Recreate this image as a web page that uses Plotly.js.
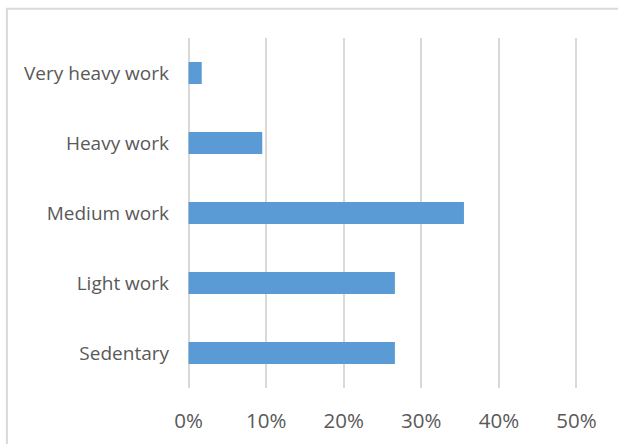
<!DOCTYPE html>
<html>
<head>
<meta charset="utf-8">
<script src="https://cdn.plot.ly/plotly-3.0.1.min.js"></script>
<style>html,body{margin:0;padding:0;background:#fff;}#chart{width:618px;height:444px;}</style>
</head>
<body>
<div id="chart"></div>
<script>
const categories = ["Sedentary", "Light work", "Medium work", "Heavy work", "Very heavy work"];
const shares = [0.266, 0.266, 0.355, 0.095, 0.017];
const tickValues = [0, 0.1, 0.2, 0.3, 0.4, 0.5];
const tickLabels = ["0%", "10%", "20%", "30%", "40%", "50%"];

const trace = {
  type: "bar",
  orientation: "h",
  y: categories,
  x: shares,
  marker: {color: "#5b9bd5", line: {width: 0}},
  hoverinfo: "none"
};

const pad = 0.002;
const scale = (576.7 - 188.7) / 0.5;
const L = 188.7 - pad * scale, R = 576.7 + pad * scale, T = 38.3, B = 388.5;
const px = v => (v - L) / (R - L);
const py = v => (B - v) / (B - T);

const layout = {
  width: 618, height: 444,
  margin: {l: L, r: 618 - R, t: T, b: 444 - B, pad: 0},
  paper_bgcolor: "#ffffff",
  plot_bgcolor: "#ffffff",
  showlegend: false,
  bargap: 0.686,
  font: {family: "Open Sans, sans-serif", size: 16, color: "#595959"},
  xaxis: {
    range: [-pad, 0.5 + pad],
    tickvals: tickValues,
    ticktext: tickLabels,
    showgrid: true,
    gridcolor: "#d9d9d9",
    gridwidth: 2,
    zeroline: false,
    showline: false,
    ticks: "",
    ticklabelstandoff: 18,
    tickfont: {size: 20.5, color: "#595959"},
    fixedrange: true
  },
  yaxis: {
    type: "category",
    categoryorder: "array",
    categoryarray: categories,
    showgrid: false,
    zeroline: false,
    showline: false,
    ticks: "",
    ticklabelstandoff: 17,
    tickfont: {size: 19, color: "#595959"},
    fixedrange: true
  },
  shapes: [{
    type: "rect", xref: "paper", yref: "paper",
    x0: px(7), x1: px(622), y0: py(448), y1: py(9),
    line: {color: "#d9d9d9", width: 2}, fillcolor: "rgba(0,0,0,0)", layer: "below"
  }]
};

Plotly.newPlot("chart", [trace], layout, {displayModeBar: false, staticPlot: true});
</script>
</body>
</html>
